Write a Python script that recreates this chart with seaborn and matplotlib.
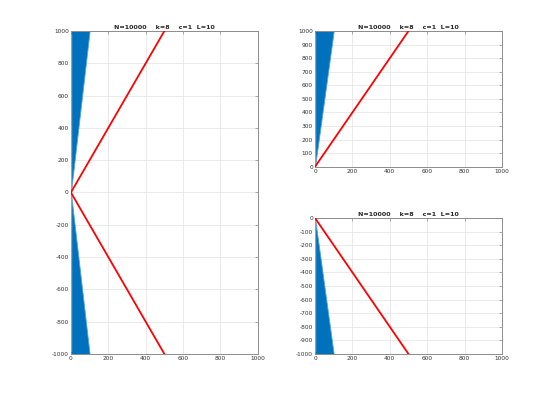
import numpy as np
import pandas as pd
import matplotlib
matplotlib.use("Agg")
import matplotlib.pyplot as plt
import seaborn as sns

# data
title_text = "N=10000    k=8    c=1  L=10"
wedge_y = [-1000, 0, 1000]
wedge_x = [100, 0, 100]
line_y = [-1000, 0, 1000]
line_x = [500, 0, 500]

full_xticks = [0, 200, 400, 600, 800, 1000]
full_yticks = [-1000, -800, -600, -400, -200, 0, 200, 400, 600, 800, 1000]
top_yticks = [0, 100, 200, 300, 400, 500, 600, 700, 800, 900, 1000]
bot_yticks = [0, -100, -200, -300, -400, -500, -600, -700, -800, -900, -1000]

sns.set_style("white")
plt.rcParams['font.family'] = ['DejaVu Sans']

BLUE = "#0072BD"
fig = plt.figure(figsize=(5.54, 3.98), dpi=100)
ax_left = fig.add_axes([0.128, 0.1106, 0.3375, 0.8116])
ax_tr = fig.add_axes([0.5686, 0.581, 0.3375, 0.341])
ax_br = fig.add_axes([0.5686, 0.1106, 0.3375, 0.3417])


def draw(ax, ymin, ymax, yticks):
    wy = np.array(wedge_y, dtype=float)
    wx = np.array(wedge_x, dtype=float)
    m = (wy >= ymin) & (wy <= ymax)
    ax.fill_betweenx(wy[m], 0, wx[m], color=BLUE, lw=0.6, edgecolor="#4fa3dd", zorder=2)
    ax.plot([1.5, 1.5], [max(ymin, -980), min(ymax, 980)], color="#a0a0a0", lw=1.0, zorder=3)
    ly = np.array(line_y, dtype=float)
    lx = np.array(line_x, dtype=float)
    m2 = (ly >= ymin) & (ly <= ymax)
    df = pd.DataFrame({"x": lx[m2], "y": ly[m2], "seg": np.sign(ly[m2])})
    sns.lineplot(data=df, x="x", y="y", sort=False, estimator=None, color="red", lw=1.3, ax=ax, zorder=4)
    ax.set_xlim(0, 1000)
    ax.set_ylim(ymin, ymax)
    ax.set_xticks(full_xticks)
    ax.set_yticks(yticks)
    ax.set_xticklabels([str(t) for t in full_xticks])
    ax.set_yticklabels([str(t) for t in yticks])
    ax.set_xlabel("")
    ax.set_ylabel("")
    ax.grid(True, color="#e6e6e6", lw=0.6)
    ax.set_axisbelow(True)
    for s in ax.spines.values():
        s.set_color("#8c8c8c")
        s.set_linewidth(0.7)
    ax.tick_params(direction="in", length=2.5, width=0.5, color="#8c8c8c",
                   labelsize=4.2, labelcolor="#333333", top=True, right=True, pad=1.5)
    ax.set_title(title_text, fontsize=4.6, fontweight="bold", pad=1.5)


draw(ax_left, -1000, 1000, full_yticks)
draw(ax_tr, 0, 1000, top_yticks)
draw(ax_br, -1000, 0, bot_yticks)

fig.savefig("out.png", dpi=100)
